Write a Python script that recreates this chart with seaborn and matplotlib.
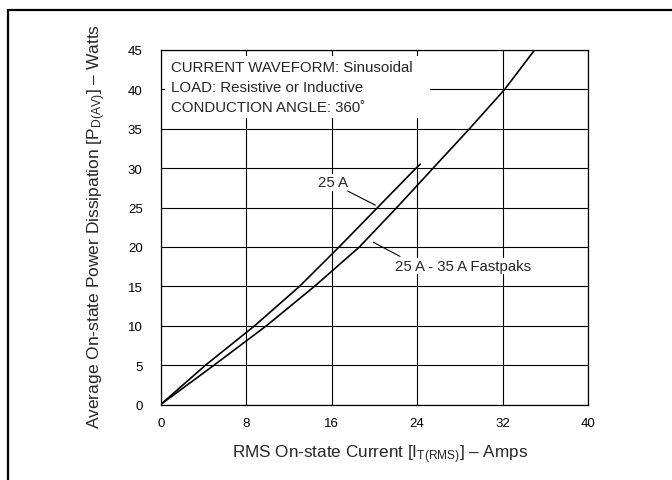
import matplotlib
matplotlib.use("Agg")
import matplotlib.pyplot as plt
from matplotlib.lines import Line2D
from matplotlib.patches import Rectangle
import seaborn as sns
import pandas as pd

# ---- data ----
x_25a = [0, 4.2, 8.8, 13.0, 16.7, 20.3, 23.9, 24.3]
y_25a = [0, 5, 10, 15, 20, 25, 30, 30.5]
x_fast = [0, 5.0, 9.9, 14.4, 18.6, 22.1, 25.5, 28.9, 32.2, 35.0]
y_fast = [0, 5, 10, 15, 20, 25, 30, 35, 40, 45]
x_ticks = [0, 8, 16, 24, 32, 40]
y_ticks = [0, 5, 10, 15, 20, 25, 30, 35, 40, 45]
info_lines = ["CURRENT WAVEFORM: Sinusoidal",
              "LOAD: Resistive or Inductive",
              "CONDUCTION ANGLE: 360˚"]
label_25a = "25 A"
label_fast = "25 A - 35 A Fastpaks"

sns.set_style("white")
plt.rcParams['font.family'] = ['Liberation Sans', 'DejaVu Sans']
plt.rcParams['mathtext.fontset'] = 'custom'
plt.rcParams['mathtext.rm'] = 'Liberation Sans'
plt.rcParams['mathtext.it'] = 'Liberation Sans'

fig = plt.figure(figsize=(6.72, 4.81), dpi=100)
ax = fig.add_axes([160.7/672, 1-405.5/481, (588-160.7)/672, (405.5-51)/481])

df1 = pd.DataFrame({"x": x_25a, "y": y_25a})
df2 = pd.DataFrame({"x": x_fast, "y": y_fast})
sns.lineplot(data=df1, x="x", y="y", ax=ax, color="black", lw=1.2, sort=False, zorder=3)
sns.lineplot(data=df2, x="x", y="y", ax=ax, color="black", lw=1.2, sort=False, zorder=3)

ax.set_xlim(0, 40)
ax.set_ylim(0, 45)
ax.set_xticks(x_ticks)
ax.set_yticks(y_ticks)
ax.set_axisbelow(True)
ax.grid(True, color="black", lw=0.8)
ax.tick_params(length=0, labelsize=9.5, colors="black")
ax.tick_params(axis="y", pad=13)
ax.tick_params(axis="x", pad=9)
for s in ax.spines.values():
    s.set_color("black")
    s.set_linewidth(0.9)

ax.set_xlabel(r"RMS On-state Current [I$_{\mathrm{T(RMS)}}$] – Amps", fontsize=12.3)
ax.set_ylabel(r"Average On-state Power Dissipation [P$_{\mathrm{D(AV)}}$] – Watts", fontsize=12.5)
ax.xaxis.set_label_coords(0.513, -0.14)
ax.xaxis.label.set_verticalalignment("center")
ax.yaxis.set_label_coords(-0.149, 0.505)
ax.yaxis.label.set_verticalalignment("center")

# white box behind the info text
ax.add_patch(Rectangle((0.4, 36.4), 24.8, 7.8, facecolor="white", edgecolor="none", zorder=1.5))
info_y = [42.8, 40.3, 37.8]
for t, yy in zip(info_lines, info_y):
    ax.text(1.0, yy, t, fontsize=10.8, va="center", ha="left", zorder=4)

# curve labels with leaders
ax.text(16.1, 28.2, label_25a, fontsize=10.8, ha="center", va="center", zorder=4,
        bbox=dict(facecolor="white", edgecolor="none", pad=1))
ax.plot([17.5, 20.1], [27.1, 25.3], color="black", lw=0.8, zorder=4)
ax.text(21.9, 17.6, label_fast, fontsize=10.8, ha="left", va="center", zorder=4,
        bbox=dict(facecolor="white", edgecolor="none", pad=1))
ax.plot([19.9, 22.4], [20.6, 18.8], color="black", lw=0.8, zorder=4)

# outer frame (left and top only)
fx = 7.5/672
fy = 1 - 10.5/481
fig.add_artist(Line2D([fx, fx], [0, fy], color="black", lw=1.6, transform=fig.transFigure))
fig.add_artist(Line2D([fx, 1], [fy, fy], color="black", lw=1.6, transform=fig.transFigure))

fig.savefig("out.png", dpi=100)
